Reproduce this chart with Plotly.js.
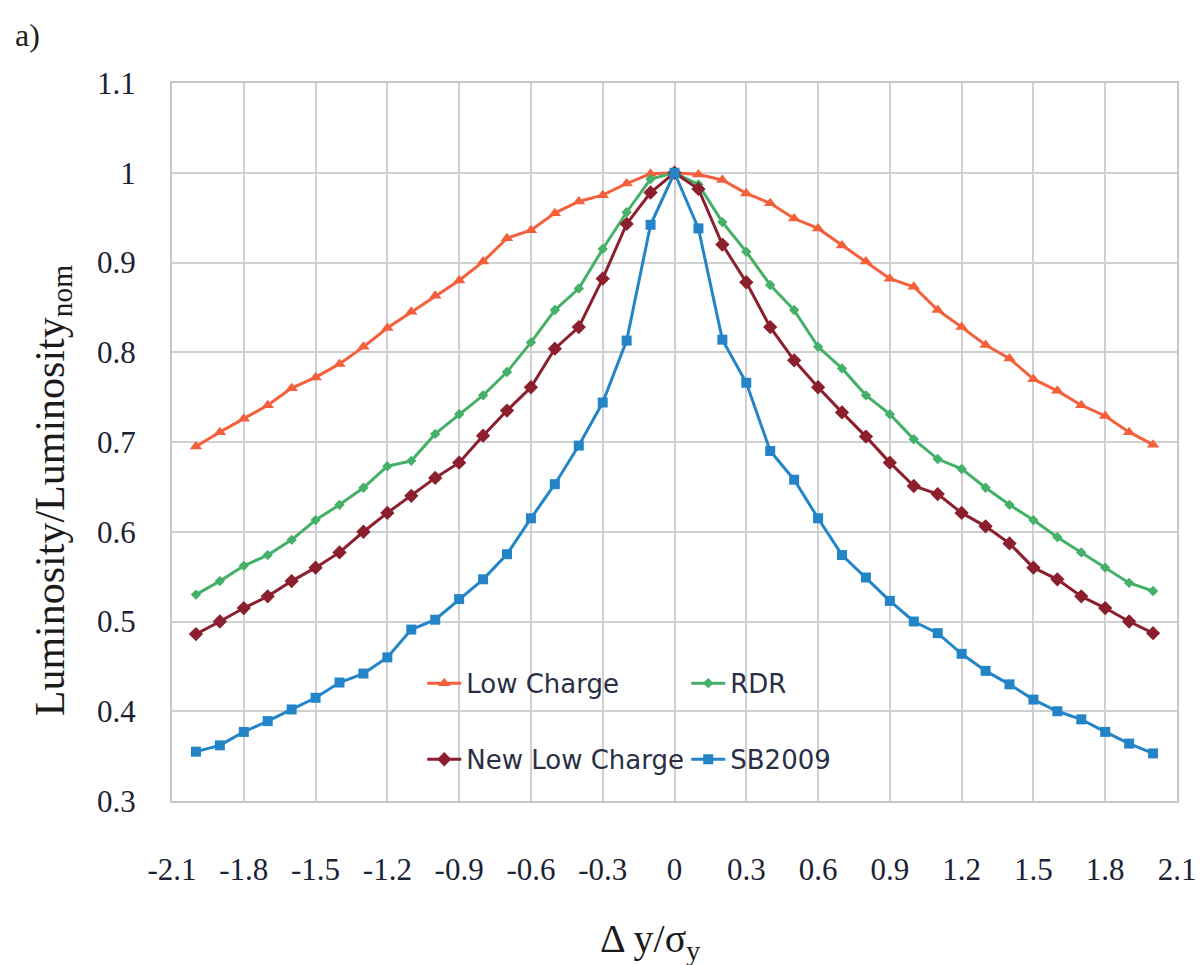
<!DOCTYPE html>
<html>
<head>
<meta charset="utf-8">
<script src="https://cdn.plot.ly/plotly-3.0.1.min.js"></script>
<style>html,body{margin:0;padding:0;background:#fff;}#chart{width:1204px;height:965px;}</style>
</head>
<body>
<div id="chart"></div>
<script>
var xVals = [-2.0,-1.9,-1.8,-1.7,-1.6,-1.5,-1.4,-1.3,-1.2,-1.1,-1.0,-0.9,-0.8,-0.7,-0.6,-0.5,-0.4,-0.3,-0.2,-0.1,0,0.1,0.2,0.3,0.4,0.5,0.6,0.7,0.8,0.9,1.0,1.1,1.2,1.3,1.4,1.5,1.6,1.7,1.8,1.9,2.0];

var lowCharge = [0.695,0.711,0.726,0.741,0.760,0.772,0.787,0.806,0.827,0.845,0.863,0.880,0.901,0.927,0.936,0.955,0.968,0.975,0.988,0.999,1.0,0.998,0.992,0.977,0.966,0.949,0.938,0.919,0.901,0.882,0.873,0.847,0.828,0.808,0.793,0.770,0.757,0.741,0.729,0.711,0.697];

var rdr = [0.530,0.545,0.562,0.574,0.591,0.613,0.630,0.649,0.673,0.679,0.709,0.731,0.752,0.778,0.811,0.847,0.871,0.915,0.956,0.993,1.0,0.987,0.945,0.912,0.875,0.847,0.806,0.782,0.752,0.731,0.703,0.681,0.670,0.649,0.630,0.613,0.594,0.577,0.560,0.543,0.534];

var newLowCharge = [0.486,0.500,0.515,0.528,0.545,0.560,0.577,0.600,0.621,0.640,0.660,0.677,0.707,0.735,0.761,0.804,0.828,0.882,0.943,0.978,1.0,0.982,0.920,0.878,0.828,0.791,0.761,0.733,0.706,0.677,0.651,0.642,0.621,0.606,0.587,0.560,0.547,0.528,0.515,0.500,0.487];

var sb2009 = [0.355,0.362,0.377,0.389,0.402,0.415,0.432,0.442,0.460,0.491,0.502,0.525,0.547,0.575,0.615,0.653,0.696,0.744,0.813,0.942,1.0,0.938,0.814,0.766,0.690,0.658,0.615,0.574,0.549,0.523,0.500,0.487,0.464,0.445,0.430,0.413,0.400,0.391,0.377,0.364,0.353];

var seriesNames = ["Low Charge","RDR","New Low Charge","SB2009"];
var xTickVals = [-2.1,-1.8,-1.5,-1.2,-0.9,-0.6,-0.3,0,0.3,0.6,0.9,1.2,1.5,1.8,2.1];
var xTickText = ["-2.1","-1.8","-1.5","-1.2","-0.9","-0.6","-0.3","0","0.3","0.6","0.9","1.2","1.5","1.8","2.1"];
var yTickVals = [0.3,0.4,0.5,0.6,0.7,0.8,0.9,1.0,1.1];
var yTickText = ["0.3","0.4","0.5","0.6","0.7","0.8","0.9","1","1.1"];
var xTitle = 'Δ y/σ<sub>y</sub>';
var yTitle = 'Luminosity/Luminosity<sub>nom</sub>';
var panelLabel = 'a)';

var traces = [
  {x: xVals, y: lowCharge, name: seriesNames[0], type: 'scatter', mode: 'lines+markers',
   line: {color: '#F5603C', width: 3}, marker: {symbol: 'triangle-up', size: 11, color: '#F5603C'}, legend: 'legend'},
  {x: xVals, y: rdr, name: seriesNames[1], type: 'scatter', mode: 'lines+markers',
   line: {color: '#45B068', width: 3}, marker: {symbol: 'diamond', size: 8, color: '#45B068'}, legend: 'legend'},
  {x: xVals, y: newLowCharge, name: seriesNames[2], type: 'scatter', mode: 'lines+markers',
   line: {color: '#8B1F2D', width: 3}, marker: {symbol: 'diamond', size: 11, color: '#8B1F2D'}, legend: 'legend2'},
  {x: xVals, y: sb2009, name: seriesNames[3], type: 'scatter', mode: 'lines+markers',
   line: {color: '#2385C8', width: 3}, marker: {symbol: 'square', size: 10, color: '#2385C8'}, legend: 'legend2'}
];

var legendFont = {family: 'DejaVu Sans', size: 26, color: '#2a2f45'};
var layout = {
  width: 1204, height: 965,
  margin: {l: 172, r: 27, t: 83, b: 164},
  paper_bgcolor: '#ffffff', plot_bgcolor: '#ffffff',
  showlegend: true,
  xaxis: {
    range: [-2.1, 2.1], tickmode: 'array', tickvals: xTickVals, ticktext: xTickText,
    showgrid: true, gridcolor: '#d0d0d0', gridwidth: 2, zeroline: false,
    showline: true, mirror: true, linecolor: '#c6c6c6', linewidth: 2,
    ticks: '', ticklabelstandoff: 40,
    tickfont: {family: 'Liberation Serif', size: 31, color: '#1b2233'}
  },
  yaxis: {
    range: [0.3, 1.1], tickmode: 'array', tickvals: yTickVals, ticktext: yTickText,
    showgrid: true, gridcolor: '#d0d0d0', gridwidth: 2, zeroline: false,
    showline: true, mirror: true, linecolor: '#c6c6c6', linewidth: 2,
    ticks: '', ticklabelstandoff: 28,
    tickfont: {family: 'Liberation Serif', size: 31, color: '#1b2233'}
  },
  legend: {
    orientation: 'h', x: 0.249, y: 0.164, xanchor: 'left', yanchor: 'middle',
    bgcolor: 'rgba(255,255,255,0)', font: legendFont, entrywidth: 215, entrywidthmode: 'pixels',
    traceorder: 'normal', itemwidth: 34
  },
  legend2: {
    orientation: 'h', x: 0.249, y: 0.058, xanchor: 'left', yanchor: 'middle',
    bgcolor: 'rgba(255,255,255,0)', font: legendFont, entrywidth: 215, entrywidthmode: 'pixels',
    traceorder: 'normal', itemwidth: 34
  },
  annotations: [
    {text: panelLabel, xref: 'paper', yref: 'paper', x: -0.158, y: 1.067, xanchor: 'left', yanchor: 'middle',
     showarrow: false, font: {family: 'Liberation Serif', size: 32, color: '#222'}},
    {text: yTitle, xref: 'paper', yref: 'paper', x: -0.119, y: 0.432, xanchor: 'center', yanchor: 'middle',
     textangle: -90, showarrow: false, font: {family: 'Liberation Serif', size: 42, color: '#1b1b1b'}},
    {text: xTitle, xref: 'paper', yref: 'paper', x: (650 - 172) / 1005, y: -0.195, xanchor: 'center', yanchor: 'middle',
     showarrow: false, font: {family: 'Liberation Serif', size: 40, color: '#1b1b1b'}}
  ]
};

Plotly.newPlot('chart', traces, layout, {displayModeBar: false, staticPlot: true});
</script>
</body>
</html>
